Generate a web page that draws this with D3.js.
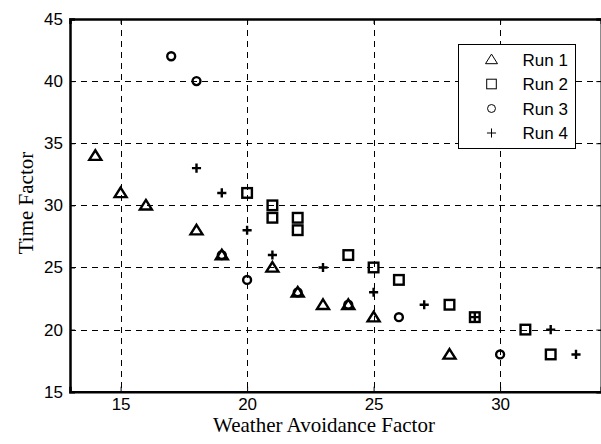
<!DOCTYPE html>
<html>
<head>
<meta charset="utf-8">
<script src="https://cdn.jsdelivr.net/npm/d3@7"></script>
<style>
  body { margin: 0; background: #fff; }
  svg { display: block; }
</style>
</head>
<body>
<svg id="plot" width="601" height="444"></svg>
<script>
// data
var runNames = ["Run 1", "Run 2", "Run 3", "Run 4"];
var run1 = [[14,34],[15,31],[16,30],[18,28],[19,26],[21,25],[22,23],[23,22],[24,22],[25,21],[28,18]];
var run2 = [[20,31],[21,30],[21,29],[22,29],[22,28],[24,26],[25,25],[26,24],[28,22],[29,21],[31,20],[32,18]];
var run3 = [[17,42],[18,40],[19,26],[20,24],[22,23],[24,22],[26,21],[30,18]];
var run4 = [[18,33],[19,31],[20,28],[21,26],[23,25],[25,23],[27,22],[29,21],[32,20],[33,18]];
var xTicks = [15, 20, 25, 30];
var yTicks = [15, 20, 25, 30, 35, 40, 45];

var runs = [run1, run2, run3, run4];
var shapes = ["triangle", "square", "circle", "plus"];

var svg = d3.select("#plot"),
    margin = {top: 19, right: 0, bottom: 52, left: 70},
    width = 601.3 - margin.left,
    height = 391.7 - margin.top;

var x = d3.scaleLinear().domain([13, 34]).range([0, width]),
    y = d3.scaleLinear().domain([15, 45]).range([height, 0]);

var g = svg.append("g")
    .attr("transform", "translate(" + margin.left + "," + margin.top + ")");

// dashed grid
g.append("g").selectAll("line")
    .data(xTicks)
    .enter().append("line")
    .attr("x1", function(d) { return Math.round(x(d)) + 0.5; })
    .attr("x2", function(d) { return Math.round(x(d)) + 0.5; })
    .attr("y1", 0).attr("y2", height)
    .attr("stroke", "#000").attr("stroke-width", 1)
    .attr("stroke-dasharray", "6,5");

g.append("g").selectAll("line")
    .data(yTicks.slice(1, -1))
    .enter().append("line")
    .attr("y1", function(d) { return Math.round(y(d)) + 0.5; })
    .attr("y2", function(d) { return Math.round(y(d)) + 0.5; })
    .attr("x1", 0).attr("x2", width)
    .attr("stroke", "#000").attr("stroke-width", 1)
    .attr("stroke-dasharray", "6,5");

// axes, ticks pointing inward like matlab
var xAxis = g.append("g")
    .attr("transform", "translate(0," + height + ")")
    .call(d3.axisBottom(x).tickValues(xTicks).tickSize(-5).tickPadding(6));
var yAxis = g.append("g")
    .call(d3.axisLeft(y).tickValues(yTicks).tickSize(-5).tickPadding(7));
g.append("g")
    .call(d3.axisTop(x).tickValues(xTicks).tickSize(-5).tickFormat(""));
g.append("g")
    .attr("transform", "translate(" + width + ",0)")
    .call(d3.axisRight(y).tickValues(yTicks).tickSize(-5).tickFormat(""));

g.selectAll(".domain").attr("stroke", "#000").attr("stroke-width", 2.5);
g.selectAll(".tick line").attr("stroke", "#000").attr("stroke-width", 1);
g.selectAll(".tick text")
    .attr("fill", "#000")
    .style("font-family", "Arial, 'Liberation Sans', sans-serif")
    .style("font-size", "17px");

// markers
function drawMarker(sel, shape, s, sw) {
    if (shape == "triangle") {
        sel.append("path")
            .attr("d", "M0," + (-s * 0.45) + "L" + (s * 0.5) + "," + (s * 0.35) + "L" + (-s * 0.5) + "," + (s * 0.35) + "Z");
    } else if (shape == "square") {
        sel.append("rect")
            .attr("x", -s * 0.4).attr("y", -s * 0.4)
            .attr("width", s * 0.8).attr("height", s * 0.8);
    } else if (shape == "circle") {
        sel.append("circle").attr("r", s * 0.33);
    } else {
        sel.append("path")
            .attr("d", "M" + (-s * 0.38) + ",0H" + (s * 0.38) + "M0," + (-s * 0.38) + "V" + (s * 0.38));
    }
    sel.selectAll("*")
        .attr("fill", "none")
        .attr("stroke", "#000")
        .attr("stroke-width", sw);
}

runs.forEach(function(run, i) {
    g.append("g").selectAll("g")
        .data(run)
        .enter().append("g")
        .attr("transform", function(d) { return "translate(" + x(d[0]) + "," + y(d[1]) + ")"; })
        .each(function() { drawMarker(d3.select(this), shapes[i], 12, 2.4); });
});

// legend
var legend = svg.append("g").attr("transform", "translate(458.5,44.5)");
legend.append("rect")
    .attr("width", 117).attr("height", 104)
    .attr("fill", "#fff").attr("stroke", "#000").attr("stroke-width", 1);

var rows = legend.selectAll(".row")
    .data(runNames)
    .enter().append("g")
    .attr("class", "row")
    .attr("transform", function(d, i) { return "translate(0," + (15 + i * 24.5) + ")"; });

rows.each(function(d, i) {
    var m = d3.select(this).append("g").attr("transform", "translate(33,0)");
    drawMarker(m, shapes[i], 12, 1);
});

rows.append("text")
    .attr("x", 64).attr("y", 6)
    .style("font-family", "Arial, 'Liberation Sans', sans-serif")
    .style("font-size", "17px")
    .text(function(d) { return d; });

// axis labels
svg.append("text")
    .attr("x", 324).attr("y", 432)
    .attr("text-anchor", "middle")
    .style("font-family", "'Times New Roman', 'Liberation Serif', serif")
    .style("font-size", "21px")
    .text("Weather Avoidance Factor");

svg.append("text")
    .attr("transform", "translate(33,203) rotate(-90)")
    .attr("text-anchor", "middle")
    .style("font-family", "'Times New Roman', 'Liberation Serif', serif")
    .style("font-size", "21px")
    .text("Time Factor");
</script>
</body>
</html>
